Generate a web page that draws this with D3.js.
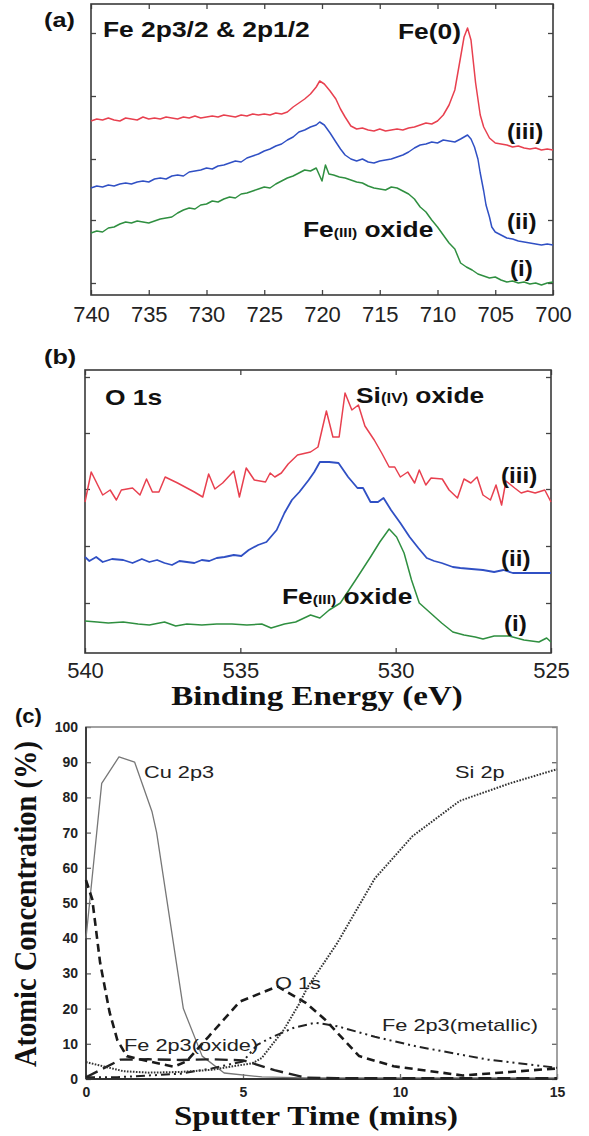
<!DOCTYPE html>
<html>
<head>
<meta charset="utf-8">
<script src="https://cdn.jsdelivr.net/npm/d3@7"></script>
<style>
  body { margin: 0; background: #fff; }
</style>
</head>
<body>
<svg id="fig"></svg>
<script>
// ---- panel (a): Fe 2p spectra, [binding energy eV, intensity a.u.]
const feRed = [[740,174],[739.5,176],[739,175],[738.5,177],[738,175],[737.5,174],[737,177],[736.5,176],[736,175],[735.5,178],[735,176],[734.5,177],[734,176],[733.5,178],[733,177],[732.5,176],[732,178],[731.5,177],[731,179],[730.5,177],[730,178],[729.5,179],[729,178],[728.5,180],[728,179],[727.5,178],[727,180],[726.5,179],[726,181],[725.5,180],[725,181],[724.5,180],[724,182],[723.5,181],[723,183],[722.5,188],[722,192],[721.5,196],[721,201],[720.5,208],[720.2,214],[719.8,211],[719.3,204],[718.8,196],[718.4,186],[718,178],[717.5,169],[717,166],[716.5,167],[716,165],[715.5,164],[715,166],[714.5,164],[714,165],[713.5,166],[713,165],[712.5,167],[712,168],[711.5,170],[711,172],[710.5,171],[710,174],[709.5,180],[709,190],[708.5,205],[708,238],[707.7,258],[707.4,267],[707.1,255],[706.7,212],[706.3,180],[706,168],[705.5,157],[705,152],[704.5,151],[704,150],[703.5,148],[703,149],[702.5,147],[702,146],[701.5,147],[701,145],[700.5,146],[700,145]];
const feBlue = [[740,107],[739.5,109],[739,108],[738.5,110],[738,109],[737.5,111],[737,112],[736.5,111],[736,113],[735.5,114],[735,113],[734.5,116],[734,117],[733.5,116],[733,119],[732.5,120],[732,119],[731.5,123],[731,124],[730.5,125],[730,127],[729.5,126],[729,129],[728.5,130],[728,132],[727.5,134],[727,133],[726.5,137],[726,139],[725.5,141],[725,144],[724.5,146],[724,149],[723.5,151],[723,155],[722.5,158],[722,163],[721.5,165],[721,168],[720.5,170],[720.2,173],[719.8,170],[719.3,162],[718.8,153],[718.4,146],[718,140],[717.5,136],[717,134],[716.5,136],[716,133],[715.5,132],[715,134],[714.5,135],[714,136],[713.5,138],[713,140],[712.5,143],[712,147],[711.5,150],[711,151],[710.5,153],[710,152],[709.5,155],[709,154],[708.5,153],[708,156],[707.7,158],[707.4,160],[707.1,156],[706.8,148],[706.5,136],[706.3,122],[706,104],[705.8,90],[705.5,78],[705.3,68],[705,63],[704.5,60],[704,57],[703.5,56],[703,54],[702.5,53],[702,52],[701.5,51],[701,50],[700.5,51],[700,50]];
const feGreen = [[740,62],[739.5,64],[739,63],[738.5,67],[738,68],[737.5,71],[737,73],[736.5,72],[736,74],[735.5,73],[735,72],[734.5,74],[734,76],[733.5,77],[733,78],[732.5,82],[732,85],[731.5,87],[731,86],[730.5,90],[730,91],[729.5,94],[729,93],[728.5,96],[728,98],[727.5,97],[727,101],[726.5,102],[726,104],[725.5,106],[725,108],[724.5,107],[724,111],[723.5,114],[723,117],[722.5,119],[722,122],[721.5,125],[721,124],[720.5,127],[720,114],[719.7,130],[719.4,121],[719,120],[718.5,118],[718,117],[717.5,115],[717,113],[716.5,112],[716,109],[715.5,107],[715,106],[714.5,105],[714,108],[713.5,107],[713,104],[712.5,101],[712,96],[711.5,88],[711,83],[710.5,75],[710,68],[709.5,60],[709,52],[708.5,46],[708,32],[707.5,28],[707,25],[706.5,21],[706,19],[705.5,17],[705,18],[704.5,15],[704,13],[703.5,14],[703,12],[702.5,13],[702,11],[701.5,12],[701,10],[700.5,12],[700,13]];

// ---- panel (b): O 1s spectra
const oRed = [[540,151],[539.8,181],[539.43,158],[539.19,163],[538.99,153],[538.83,163],[538.47,165],[538.23,158],[538.02,174],[537.83,161],[537.62,161],[537.42,176],[537.02,170],[536.72,165],[536.48,161],[536.21,156],[536.02,179],[535.82,164],[535.57,170],[535.21,182],[535.03,156],[534.81,185],[534.55,173],[534.19,171],[534.04,180],[533.89,176],[533.68,180],[533.46,189],[533.16,198],[532.74,201],[532.5,206],[532.23,242],[532.02,216],[531.82,216],[531.63,260],[531.41,243],[531.2,248],[530.99,227],[530.69,213],[530.45,200],[530.21,186],[530.03,186],[529.85,176],[529.61,181],[529.39,170],[529.24,183],[529.03,168],[528.86,175],[528.5,174],[528.28,163],[528.01,155],[527.8,174],[527.58,170],[527.38,176],[527.19,158],[526.95,153],[526.77,168],[526.59,148],[526.45,172],[526.17,165],[525.96,160],[525.75,162],[525.51,160],[525.2,163],[525,151]];
const oBlue = [[540,96],[539.86,92],[539.64,96],[539.43,91],[539.13,94],[538.77,93],[538.47,90],[538.17,94],[537.93,91],[537.68,93],[537.44,90],[537.2,88],[536.96,92],[536.72,91],[536.48,90],[536.24,93],[536,92],[535.76,95],[535.51,96],[535.21,98],[534.97,97],[534.73,103],[534.43,108],[534.16,111],[533.83,123],[533.58,140],[533.34,153],[533.1,161],[532.8,173],[532.62,181],[532.44,191],[532.14,191],[531.84,190],[531.53,176],[531.23,165],[531.05,165],[530.81,151],[530.57,151],[530.39,155],[530.15,143],[529.85,130],[529.55,116],[529.27,105],[529,95],[528.76,92],[528.52,90],[528.16,86],[527.92,85],[527.56,84],[527.19,83],[526.83,81],[526.53,83],[526.23,80],[525.87,80],[525.51,80],[525,80]];
const oGreen = [[540,32],[539.61,31],[539.25,30],[538.77,31],[538.29,29],[537.93,28],[537.44,31],[537.08,27],[536.72,29],[536.24,28],[535.76,29],[535.27,29],[534.79,28],[534.31,29],[534.01,25],[533.58,29],[533.22,31],[532.74,38],[532.44,35],[532.14,43],[531.78,50],[531.29,73],[530.81,96],[530.51,111],[530.21,124],[529.97,116],[529.73,100],[529.49,73],[529.24,50],[528.88,40],[528.52,30],[528.16,21],[527.8,18],[527.44,16],[527.19,14],[526.83,17],[526.35,17],[525.87,13],[525.39,11],[525.14,15],[525,11]];

// ---- panel (c): depth profile, [sputter time min, atomic %]
const cu2p = [[0,40],[0.5,84],[1.05,91.5],[1.55,90],[2.1,76],[2.25,70],[3.1,20],[3.7,6.5],[4.4,1.7],[5.6,0.6],[7,0.3],[9,0.3],[11,0.3],[13,0.3],[15,0.3]];
const si2p = [[0,4.8],[0.6,3.5],[1.2,2.2],[2,1.8],[3,2],[4,2.6],[5.3,4.5],[5.6,6],[6.3,14],[6.8,21.5],[7.05,26],[8,38.6],[9.2,57],[10.4,69],[11.9,79],[13.5,84],[15,88]];
const o1s = [[0,56.5],[0.2,51],[0.45,33],[0.75,19],[1,11],[1.3,6.5],[2,5],[2.8,3.5],[3.2,5],[3.9,12],[4.4,17],[4.9,22],[6.1,26.3],[7,21.6],[7.6,17],[8.7,6.5],[9.8,3.6],[12,1],[13.5,2],[15,3]];
const feMetal = [[0,0.5],[1,0.5],[2,1],[3,1.5],[4,3],[5,5],[5.45,9.7],[5.95,12],[6.6,14.5],[7.3,16],[8,15],[9.2,12],[10.5,9.3],[12.8,5.5],[15,3.2]];
const feOxide = [[0,0.5],[1.1,5.5],[2,5.6],[3,5.4],[4,5.6],[5,5.3],[5.3,4.5],[6,2.5],[7,0.4],[8,0.2],[15,0.2]];

// ---- ticks
const ticksA = [740,735,730,725,720,715,710,705,700];
const ticksB = [540,535,530,525];
const ticksC = [0,5,10,15];
const yTicksA = [12,75,136,199,262];
const yTicksB = [50,107,164,220,276];
const yTicksC = [0,10,20,30,40,50,60,70,80,90,100];

const width = 589, height = 1136;
const svg = d3.select("#fig").attr("width", width).attr("height", height);
const SANS = "Liberation Sans, Arial, Helvetica, sans-serif";
const SERIF = "Liberation Serif, Times New Roman, serif";

function txt(x, y, parts, o = {}) {
  const t = svg.append("text")
    .attr("transform", `translate(${x},${y}) scale(${o.sx ?? 1.2},1)`)
    .attr("font-family", o.family || SANS)
    .attr("font-size", o.size || 22)
    .attr("font-weight", o.weight || "bold")
    .attr("text-anchor", o.anchor || "start")
    .attr("fill", o.fill || "#111");
  (Array.isArray(parts) ? parts : [[parts]]).forEach(p => {
    t.append("tspan").attr("font-size", p[1] || null).text(p[0]);
  });
  return t;
}

function frame(cfg) {
  const x = d3.scaleLinear().domain(cfg.xd).range(cfg.xr);
  const y = d3.scaleLinear().domain(cfg.yd).range(cfg.yr);
  const g = svg.append("g");
  const styleAxis = s => {
    s.select(".domain").remove();
    s.selectAll("line").attr("stroke", cfg.tickColor || "#444").attr("stroke-width", 1.3);
    s.selectAll("text").attr("font-family", SANS).attr("font-size", cfg.fs)
      .attr("font-weight", cfg.weight).attr("fill", "#222");
  };
  g.append("g").attr("transform", `translate(0,${cfg.yr[0]})`)
    .call(d3.axisBottom(x).tickValues(cfg.xticks).tickSizeInner(-5).tickSizeOuter(0).tickPadding(cfg.pad))
    .call(styleAxis);
  if (cfg.topTicks !== false) {
    g.append("g").attr("transform", `translate(0,${cfg.yr[1]})`)
      .call(d3.axisTop(x).tickValues(cfg.xticks).tickSizeInner(-5).tickSizeOuter(0).tickFormat(() => ""))
      .call(styleAxis);
  }
  g.append("g").attr("transform", `translate(${cfg.xr[0]},0)`)
    .call(d3.axisLeft(y).tickValues(cfg.yticks).tickSizeInner(-5).tickSizeOuter(0)
      .tickPadding(cfg.yPad || 0).tickFormat(cfg.yLabels ? d3.format("d") : () => ""))
    .call(styleAxis);
  g.append("g").attr("transform", `translate(${cfg.xr[1]},0)`)
    .call(d3.axisRight(y).tickValues(cfg.yticks).tickSizeInner(-5).tickSizeOuter(0).tickFormat(() => ""))
    .call(styleAxis);
  g.append("rect")
    .attr("x", cfg.xr[0]).attr("y", cfg.yr[1])
    .attr("width", cfg.xr[1] - cfg.xr[0]).attr("height", cfg.yr[0] - cfg.yr[1])
    .attr("fill", "none").attr("stroke", cfg.boxColor || "#3a3a3a").attr("stroke-width", 1.6);
  return { g, x, y };
}

function trace(p, data, color, w, dash) {
  p.g.append("path").datum(data)
    .attr("fill", "none").attr("stroke", color).attr("stroke-width", w)
    .attr("stroke-linejoin", "round")
    .attr("stroke-dasharray", dash || null)
    .attr("d", d3.line().x(d => p.x(d[0])).y(d => p.y(d[1])));
}

const RED = "#e8404f", BLUE = "#3050c4", GREEN = "#2f8f40";

// ---------- (a)
const pa = frame({ xd: [740, 700], xr: [91, 553], yd: [0, 291], yr: [295, 4],
  xticks: ticksA, yticks: yTicksA, pad: 11.4, fs: 22, weight: "normal" });
trace(pa, feRed, RED, 1.5);
trace(pa, feBlue, BLUE, 1.5);
trace(pa, feGreen, GREEN, 1.5);
txt(44, 27, "(a)", { size: 21 });
txt(103, 37, "Fe 2p3/2 & 2p1/2", { size: 22 });
txt(398, 39, "Fe(0)", { size: 22 });
txt(507, 139, "(iii)", { size: 22, sx: 1.1 });
txt(507, 229, "(ii)", { size: 22, sx: 1.1 });
txt(510, 276, "(i)", { size: 22, sx: 1.1 });
txt(303, 237, [["Fe"], ["(III)", 13], [" oxide"]], { size: 22 });

// ---------- (b)
const pb = frame({ xd: [540, 525], xr: [85, 551], yd: [0, 283], yr: [653, 370],
  xticks: ticksB, yticks: yTicksB, pad: 9.4, fs: 22, weight: "normal" });
trace(pb, oRed, RED, 1.5);
trace(pb, oBlue, BLUE, 1.8);
trace(pb, oGreen, GREEN, 1.5);
txt(44, 364, "(b)", { size: 21 });
txt(105, 405, "O 1s", { size: 22 });
txt(356, 403, [["Si"], ["(IV)", 14], [" oxide"]], { size: 22 });
txt(501, 483, "(iii)", { size: 22, sx: 1.1 });
txt(501, 566, "(ii)", { size: 22, sx: 1.1 });
txt(504, 631, "(i)", { size: 22, sx: 1.1 });
txt(282, 604, [["Fe"], ["(III)", 13], [" oxide"]], { size: 22 });
txt(317, 705, "Binding Energy (eV)", { family: SERIF, size: 27.5, anchor: "middle" });

// ---------- (c)
const pc = frame({ xd: [0, 15], xr: [86, 557], yd: [0, 100], yr: [1079, 727],
  xticks: ticksC, yticks: yTicksC, pad: 8.5, yPad: 8, fs: 14, weight: "bold",
  yLabels: true, topTicks: false, boxColor: "#8a8a8a", tickColor: "#666" });
pc.g.append("line")
  .attr("x1", pc.x(0)).attr("x2", pc.x(0)).attr("y1", pc.y(0)).attr("y2", pc.y(100))
  .attr("stroke", "#333").attr("stroke-width", 1.8);
pc.g.append("line")
  .attr("x1", pc.x(0)).attr("x2", pc.x(15)).attr("y1", pc.y(0)).attr("y2", pc.y(0))
  .attr("stroke", "#333").attr("stroke-width", 1.8);
trace(pc, cu2p, "#777", 1.3);
trace(pc, feOxide, "#222", 2.4, "13,6");
trace(pc, feMetal, "#222", 2, "9,4,2,4,2,4");
trace(pc, o1s, "#1a1a1a", 2.6, "8,5");
trace(pc, si2p, "#333", 2, "1.6,1.4");
txt(15, 723, "(c)", { size: 20, sx: 1.1 });
txt(144, 778, "Cu 2p3", { size: 17, weight: "normal", sx: 1.28, fill: "#222" });
txt(455, 778, "Si 2p", { size: 17, weight: "normal", sx: 1.28, fill: "#222" });
txt(275, 989, "O 1s", { size: 17, weight: "normal", sx: 1.28, fill: "#222" });
txt(124, 1051, "Fe 2p3(oxide)", { size: 17, weight: "normal", sx: 1.28, fill: "#222" });
txt(382, 1031, "Fe 2p3(metallic)", { size: 17, weight: "normal", sx: 1.28, fill: "#222" });
svg.append("text")
  .attr("transform", "translate(36,904) rotate(-90) scale(1,1.12)")
  .attr("font-family", SERIF).attr("font-size", 28.5).attr("font-weight", "bold")
  .attr("text-anchor", "middle").attr("fill", "#111")
  .text("Atomic Concentration (%)");
txt(316, 1125, "Sputter Time (mins)", { family: SERIF, size: 27.5, anchor: "middle" });
</script>
</body>
</html>
